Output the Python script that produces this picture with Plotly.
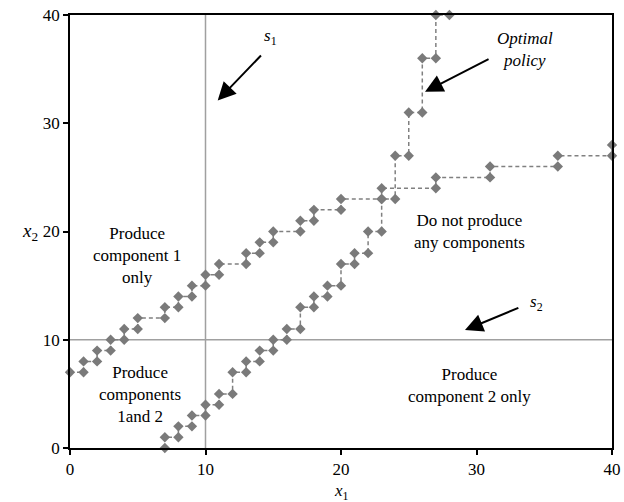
import plotly.graph_objects as go

# Optimal policy switching curves (staircases)
upper_x = [0, 1, 1, 2, 2, 3, 3, 4, 4, 5, 5, 7, 7, 8, 8, 9, 9, 10, 10, 11, 11, 13, 13, 14, 14, 15, 15,
           17, 17, 18, 18, 20, 20, 23, 23, 27, 27, 31, 31, 36, 36, 40, 40]
upper_y = [7, 7, 8, 8, 9, 9, 10, 10, 11, 11, 12, 12, 13, 13, 14, 14, 15, 15, 16, 16, 17, 17, 18, 18, 19, 19, 20,
           20, 21, 21, 22, 22, 23, 23, 24, 24, 25, 25, 26, 26, 27, 27, 28]

lower_x = [7, 7, 8, 8, 9, 9, 10, 10, 11, 11, 12, 12, 13, 13, 14, 14, 15, 15, 16, 16, 17, 17, 18, 18, 19, 19,
           20, 20, 21, 21, 22, 22, 23, 23, 24, 24, 25, 25, 26, 26, 27, 27, 28]
lower_y = [0, 1, 1, 2, 2, 3, 3, 4, 4, 5, 5, 7, 7, 8, 8, 9, 9, 10, 10, 11, 11, 13, 13, 14, 14, 15,
           15, 17, 17, 18, 18, 20, 20, 23, 23, 27, 27, 31, 31, 36, 36, 40, 40]

S1 = 10
S2 = 10
x_ticks = [0, 10, 20, 30, 40]
y_ticks = [0, 10, 20, 30, 40]

FONT = "Liberation Serif, Times New Roman, serif"
line_col = "#808080"
mark_col = "#7a7a7a"

fig = go.Figure()
for xs, ys in [(upper_x, upper_y), (lower_x, lower_y)]:
    fig.add_trace(go.Scatter(
        x=xs, y=ys, mode="lines+markers",
        line=dict(color=line_col, width=1.5, dash="4px,3px"),
        marker=dict(symbol="diamond", size=8, color=mark_col),
        cliponaxis=False, showlegend=False, hoverinfo="skip"))

fig.add_vline(x=S1, line=dict(color="#a0a0a0", width=1.5), layer="below")
fig.add_hline(y=S2, line=dict(color="#a0a0a0", width=1.5), layer="below")

txt = dict(family=FONT, size=17, color="black")
ann = [
    dict(x=4.95, y=17.8, text="Produce<br>component 1<br>only"),
    dict(x=5.2, y=4.9, text="Produce<br>components<br>1and 2"),
    dict(x=29.5, y=20.0, text="Do not produce<br>any components"),
    dict(x=29.5, y=5.8, text="Produce<br>component 2 only"),
    dict(x=33.6, y=36.8, text="<i>Optimal<br>policy</i>"),
    dict(x=14.8, y=38.0, text="<i>s</i><sub>1</sub>"),
    dict(x=34.4, y=13.4, text="<i>s</i><sub>2</sub>"),
]
for a in ann:
    fig.add_annotation(x=a["x"], y=a["y"], text=a["text"], showarrow=False,
                       font=txt, xref="x", yref="y", align="center")

arrows = [
    ((26.2, 32.9), (31.0, 36.0)),
    ((10.9, 32.1), (14.2, 36.4)),
    ((29.15, 10.9), (33.2, 13.0)),
]
for (hx, hy), (tx, ty) in arrows:
    fig.add_annotation(x=hx, y=hy, ax=tx, ay=ty, xref="x", yref="y", axref="x", ayref="y",
                       text="", showarrow=True, arrowhead=2, arrowsize=1.8, arrowwidth=2,
                       arrowcolor="black")

fig.add_annotation(x=-0.092, y=20, xref="paper", yref="y", text="<i>x</i><sub>2</sub>",
                   showarrow=False, font=dict(family=FONT, size=19, color="black"))
fig.add_annotation(x=20, y=-0.071, xref="x", yref="paper", yanchor="top", text="<i>x</i><sub>1</sub>",
                   showarrow=False, font=dict(family=FONT, size=17, color="black"))

axis_common = dict(showgrid=False, zeroline=False, showline=True, linecolor="black", linewidth=1.5,
                   mirror=True, ticks="outside", ticklen=5, tickcolor="black", tickwidth=1.5,
                   tickfont=dict(family=FONT, size=17, color="black"))
fig.update_xaxes(range=[0, 40], tickvals=x_ticks, automargin=False, **axis_common)
fig.update_yaxes(range=[0, 40], tickvals=y_ticks, automargin=False, **axis_common)

fig.update_layout(width=624, height=502, margin=dict(l=70, r=12, t=15, b=54),
                  plot_bgcolor="white", paper_bgcolor="white",
                  font=dict(family=FONT, size=17, color="black"))

fig.write_html("out.html")
